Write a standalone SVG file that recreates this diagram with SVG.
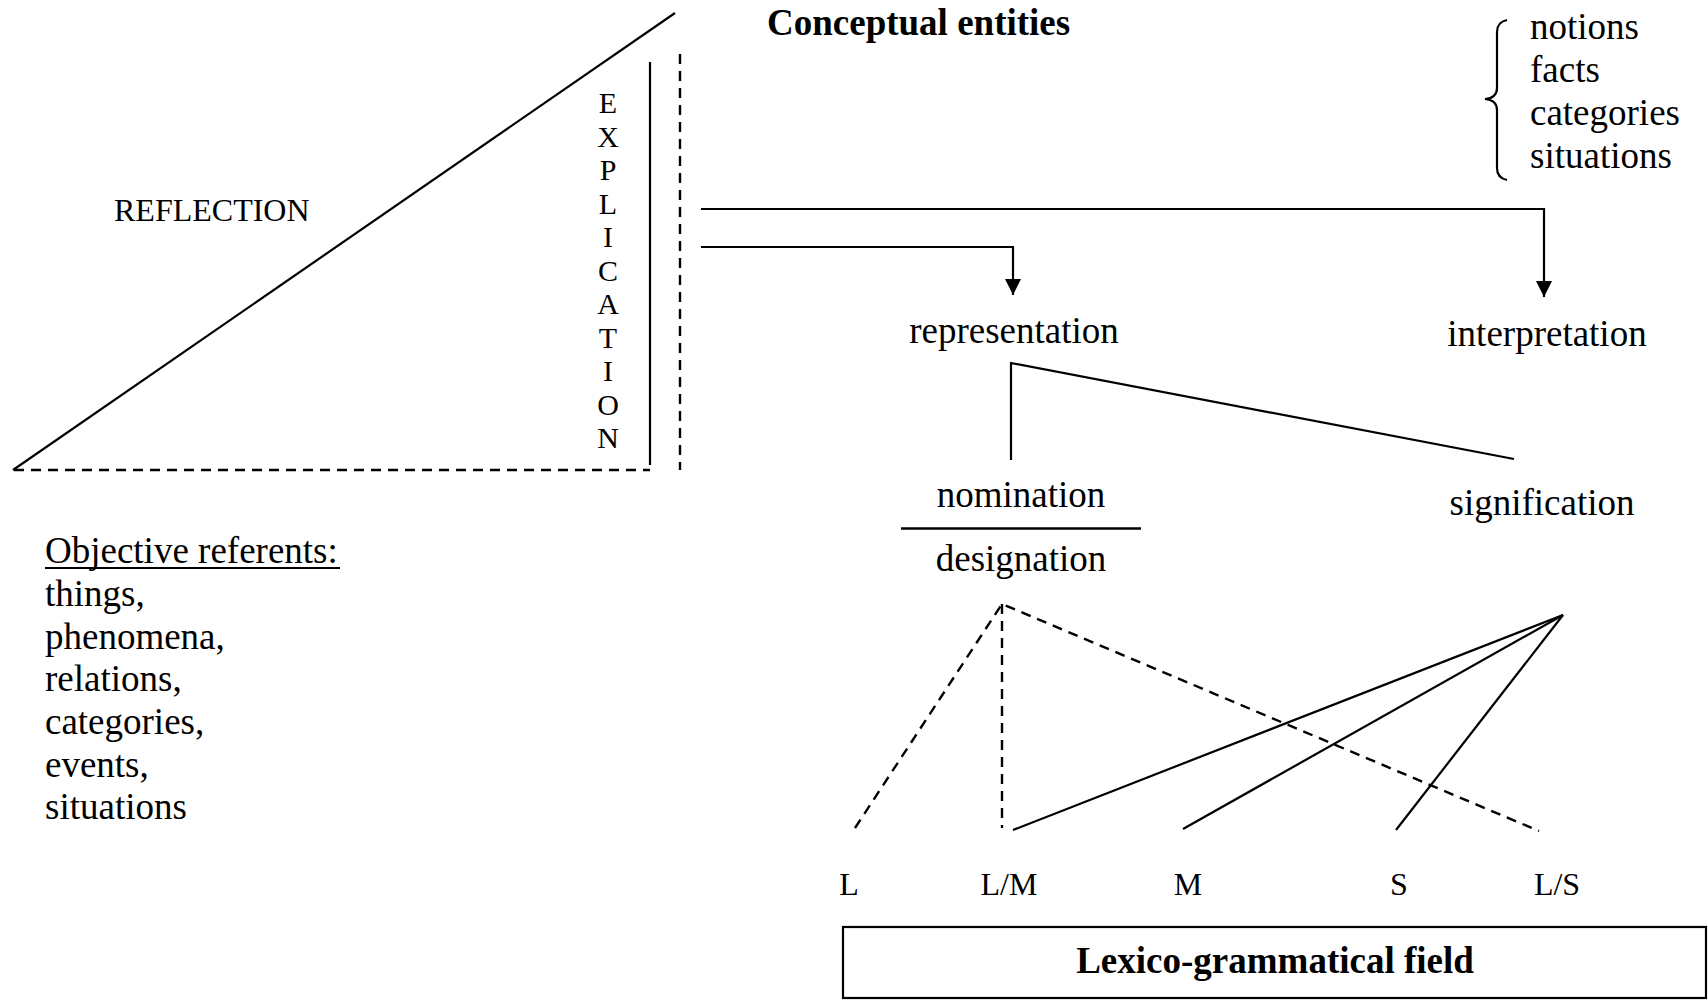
<svg xmlns="http://www.w3.org/2000/svg" width="1708" height="1000" viewBox="0 0 1708 1000">
<style>
text{font-family:"Liberation Serif","Times New Roman",serif;fill:#000}
.t{font-size:37px}
.b{font-size:37px;font-weight:bold}
.s{font-size:32px}
.e{font-size:30px;text-anchor:middle}
.m{text-anchor:middle}
.ln{stroke:#000;stroke-width:2.2;fill:none}
.d{stroke:#000;stroke-width:2.4;fill:none;stroke-dasharray:10 7}
</style>
<defs>
<marker id="ah" viewBox="0 0 16 16" refX="16" refY="8" markerWidth="16" markerHeight="16" markerUnits="userSpaceOnUse" orient="auto">
<path d="M0,0 L16,8 L0,16 Z" fill="#000"/>
</marker>
</defs>
<rect width="1708" height="1000" fill="#fff"/>

<g id="reflection-triangle">
<line class="ln" x1="13" y1="470" x2="675" y2="13"/>
<line class="d" x1="14" y1="470" x2="650" y2="470"/>
<line class="ln" x1="650" y1="62" x2="650" y2="465"/>
<line class="d" x1="680" y1="54" x2="680" y2="470"/>
<text class="s" x="114" y="221">REFLECTION</text>
</g>

<g id="explication">
<text class="e" x="608" y="113">E</text>
<text class="e" x="608" y="146.5">X</text>
<text class="e" x="608" y="180">P</text>
<text class="e" x="608" y="213.5">L</text>
<text class="e" x="608" y="247">I</text>
<text class="e" x="608" y="280.5">C</text>
<text class="e" x="608" y="314">A</text>
<text class="e" x="608" y="347.5">T</text>
<text class="e" x="608" y="381">I</text>
<text class="e" x="608" y="414.5">O</text>
<text class="e" x="608" y="448">N</text>
</g>

<g id="conceptual-entities">
<text class="b" x="767" y="35">Conceptual entities</text>
</g>

<g id="entity-list">
<path class="ln" d="M1507,20 Q1497,22 1497,32 L1497,88 Q1497,98 1485,99 Q1497,100 1497,110 L1497,168 Q1497,178 1507,180"/>
<text class="t" x="1530" y="39">notions</text>
<text class="t" x="1530" y="82">facts</text>
<text class="t" x="1530" y="125">categories</text>
<text class="t" x="1530" y="168">situations</text>
</g>

<g id="objective-referents">
<text class="t" x="45" y="563">Objective referents:</text>
<line x1="45" y1="568" x2="340" y2="568" stroke="#000" stroke-width="2"/>
<text class="t" x="45" y="606">things,</text>
<text class="t" x="45" y="648.5">phenomena,</text>
<text class="t" x="45" y="691">relations,</text>
<text class="t" x="45" y="734">categories,</text>
<text class="t" x="45" y="776.5">events,</text>
<text class="t" x="45" y="819">situations</text>
</g>

<g id="representation"><text class="t m" x="1014" y="343">representation</text></g>
<g id="interpretation"><text class="t m" x="1547" y="346">interpretation</text></g>
<g id="nomination"><text class="t m" x="1021" y="507">nomination</text></g>
<g id="designation"><text class="t m" x="1021" y="571">designation</text></g>
<g id="signification"><text class="t m" x="1542" y="515">signification</text></g>

<g id="L"><text class="s m" x="849" y="895">L</text></g>
<g id="LM"><text class="s m" x="1009" y="895">L/M</text></g>
<g id="M"><text class="s m" x="1188" y="895">M</text></g>
<g id="S"><text class="s m" x="1399" y="895">S</text></g>
<g id="LS"><text class="s m" x="1557" y="895">L/S</text></g>

<g id="lexico-grammatical-field">
<rect x="843" y="927" width="863" height="71" fill="none" stroke="#000" stroke-width="2.2"/>
<text class="b m" x="1275" y="973">Lexico-grammatical field</text>
</g>

<g id="connectors">
<polyline class="ln" points="701,209 1544,209 1544,297" marker-end="url(#ah)"/>
<polyline class="ln" points="701,247 1013,247 1013,295" marker-end="url(#ah)"/>
<polyline class="ln" points="1011,460 1011,363 1514,459"/>
<line x1="901" y1="528.5" x2="1141" y2="528.5" stroke="#000" stroke-width="2.6"/>
<polyline class="d" points="855,828 1002,604 1539,831"/>
<line class="d" x1="1002" y1="604" x2="1002" y2="828"/>
<line class="ln" x1="1563" y1="615" x2="1013" y2="830"/>
<line class="ln" x1="1563" y1="615" x2="1183" y2="829"/>
<line class="ln" x1="1563" y1="615" x2="1396" y2="830"/>
</g>
</svg>
